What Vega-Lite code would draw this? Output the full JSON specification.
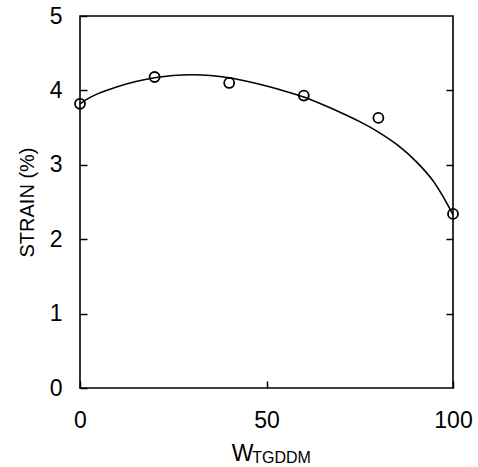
{
  "$schema": "https://vega.github.io/schema/vega-lite/v6.json",
  "autosize": "none",
  "width": 373,
  "height": 372,
  "padding": {"left": 80, "top": 16, "right": 25, "bottom": 79},
  "background": "white",
  "config": {
    "view": {"stroke": "black", "strokeWidth": 1.6},
    "font": "Liberation Sans",
    "axis": {"grid": false, "domain": false, "tickColor": "black", "tickWidth": 1.5, "labelColor": "black", "titleColor": "black", "labelFont": "Liberation Sans", "titleFont": "Liberation Sans", "titleFontWeight": "normal"}
  },
  "title": {"text": "TGDDM", "orient": "bottom", "anchor": "middle", "fontSize": 16, "fontWeight": "normal", "font": "Liberation Sans", "color": "black", "dx": 15, "offset": -15},
  "datasets": {
    "curve": [
      {"w": 0, "strain": 3.82}, {"w": 2.5, "strain": 3.9}, {"w": 5, "strain": 3.96}, {"w": 10, "strain": 4.05},
      {"w": 15, "strain": 4.12}, {"w": 20, "strain": 4.17}, {"w": 25, "strain": 4.2}, {"w": 30, "strain": 4.21},
      {"w": 35, "strain": 4.2}, {"w": 40, "strain": 4.17}, {"w": 45, "strain": 4.12}, {"w": 50, "strain": 4.06},
      {"w": 55, "strain": 3.99}, {"w": 60, "strain": 3.91}, {"w": 65, "strain": 3.81}, {"w": 70, "strain": 3.7},
      {"w": 75, "strain": 3.58}, {"w": 80, "strain": 3.44}, {"w": 85, "strain": 3.27}, {"w": 90, "strain": 3.05},
      {"w": 95, "strain": 2.76}, {"w": 97.5, "strain": 2.56}, {"w": 100, "strain": 2.33}
    ],
    "points": [
      {"w": 0, "strain": 3.82}, {"w": 20, "strain": 4.18}, {"w": 40, "strain": 4.1},
      {"w": 60, "strain": 3.93}, {"w": 80, "strain": 3.63}, {"w": 100, "strain": 2.34}
    ]
  },
  "layer": [
    {
      "data": {"name": "curve"},
      "mark": {"type": "line", "color": "black", "strokeWidth": 1.6, "interpolate": "monotone", "clip": false},
      "encoding": {
        "x": {"field": "w", "type": "quantitative", "scale": {"domain": [0, 100], "nice": false, "zero": false},
          "axis": {"values": [0, 50, 100], "offset": -7, "tickSize": 7, "labelPadding": 21, "labelFontSize": 23, "labelFlush": false,
            "title": "W", "titleFontSize": 23, "titleX": 162, "titleAlign": "center", "titlePadding": 10}},
        "y": {"field": "strain", "type": "quantitative", "scale": {"domain": [0, 5], "nice": false},
          "axis": {"values": [0, 1, 2, 3, 4, 5], "offset": -7, "tickSize": 7, "labelPadding": 18, "labelFontSize": 23,
            "title": "STRAIN (%)", "titleFontSize": 20, "titlePadding": 12}}
      }
    },
    {
      "data": {"name": "points"},
      "mark": {"type": "point", "shape": "circle", "filled": false, "stroke": "black", "strokeWidth": 1.8, "size": 100, "opacity": 1, "clip": false},
      "encoding": {
        "x": {"field": "w", "type": "quantitative"},
        "y": {"field": "strain", "type": "quantitative", "axis": null}
      }
    },
    {
      "data": {"name": "points"},
      "mark": {"type": "point", "opacity": 0},
      "encoding": {
        "y": {"field": "strain", "type": "quantitative",
          "axis": {"orient": "right", "values": [1, 2, 3, 4], "offset": -7, "tickSize": 7, "labels": false, "title": null}}
      }
    }
  ],
  "resolve": {"axis": {"y": "independent"}}
}
